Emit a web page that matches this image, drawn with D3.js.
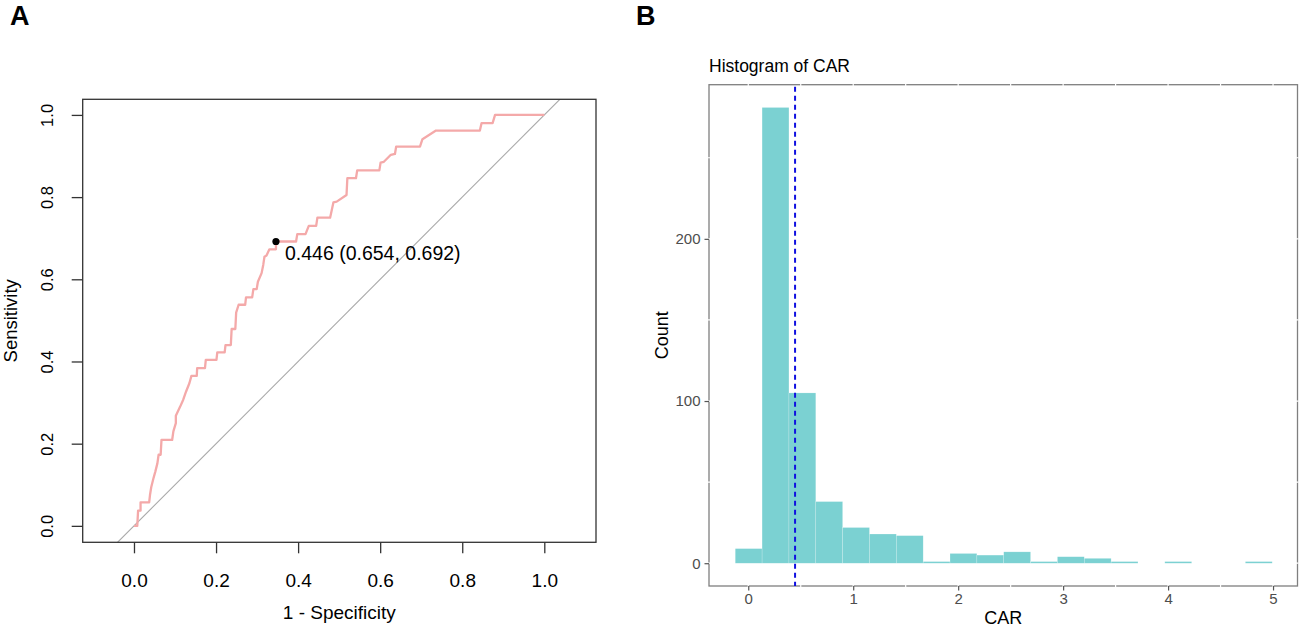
<!DOCTYPE html>
<html>
<head>
<meta charset="utf-8">
<script src="https://cdn.jsdelivr.net/npm/d3@7"></script>
<style>
  body { margin: 0; background: #fff; }
  svg { font-family: "Liberation Sans", Arial, sans-serif; }
</style>
</head>
<body>
<div id="chart"></div>
<script>
// ROC curve (1 - specificity, sensitivity)
const fpr = [0.000, 0.008, 0.010, 0.016, 0.016, 0.037, 0.039, 0.042, 0.047, 0.052, 0.057, 0.060, 0.065, 0.067,
  0.093, 0.096, 0.102, 0.102, 0.112, 0.120, 0.127, 0.135, 0.140, 0.153, 0.154, 0.173, 0.175, 0.201, 0.203,
  0.221, 0.223, 0.236, 0.238, 0.247, 0.249, 0.255, 0.271, 0.273, 0.288, 0.291, 0.299, 0.302, 0.311, 0.315,
  0.318, 0.323, 0.330, 0.346, 0.346, 0.395, 0.398, 0.418, 0.426, 0.444, 0.447, 0.478, 0.486, 0.494, 0.518,
  0.520, 0.541, 0.544, 0.598, 0.601, 0.609, 0.626, 0.636, 0.639, 0.697, 0.703, 0.736, 0.843, 0.847, 0.874,
  0.880, 1.000];
const tpr = [0.000, 0.000, 0.037, 0.037, 0.057, 0.057, 0.075, 0.094, 0.114, 0.132, 0.152, 0.173, 0.173, 0.209,
  0.209, 0.230, 0.250, 0.268, 0.289, 0.307, 0.327, 0.347, 0.365, 0.365, 0.384, 0.384, 0.404, 0.404, 0.422,
  0.422, 0.440, 0.440, 0.479, 0.479, 0.519, 0.538, 0.538, 0.556, 0.556, 0.576, 0.576, 0.594, 0.615, 0.635,
  0.655, 0.658, 0.673, 0.673, 0.692, 0.692, 0.710, 0.710, 0.730, 0.730, 0.750, 0.750, 0.787, 0.789, 0.805,
  0.846, 0.846, 0.865, 0.865, 0.884, 0.886, 0.903, 0.905, 0.923, 0.923, 0.941, 0.962, 0.962, 0.980, 0.980,
  1.000, 1.000];
const bestThreshold = 0.446;
const bestSpec = 0.654;
const bestSens = 0.692;
const rocTicks = [0, 0.2, 0.4, 0.6, 0.8, 1.0];

// histogram of CAR: 20 bins
const binStart = -0.124;
const binWidth = 0.2558;
const binCounts = [9, 281, 105, 38, 22, 18, 17, 1, 6, 5, 7, 1, 4, 3, 1, 0, 1, 0, 0, 1];
const carTicks = [0, 1, 2, 3, 4, 5];
const countTicks = [0, 100, 200];
const carGrid = [0, 0.5, 1, 1.5, 2, 2.5, 3, 3.5, 4, 4.5, 5];
const countGrid = [0, 50, 100, 150, 200, 250];

const svg = d3.select("#chart").append("svg")
    .attr("width", 1299)
    .attr("height", 629);

// panel letters
svg.append("text").attr("x", 10).attr("y", 25)
    .style("font-size", "27px").style("font-weight", "bold").text("A");
svg.append("text").attr("x", 636).attr("y", 25)
    .style("font-size", "27px").style("font-weight", "bold").text("B");

// ---------- Panel A: ROC ----------
const xA = d3.scaleLinear().domain([-0.125, 1.126]).range([82.7, 596]);
const yA = d3.scaleLinear().domain([-0.040, 1.038]).range([542.3, 99.3]);

const gA = svg.append("g");

gA.append("clipPath").attr("id", "clipA")
    .append("rect")
    .attr("x", xA.range()[0]).attr("y", yA.range()[1])
    .attr("width", xA.range()[1] - xA.range()[0])
    .attr("height", yA.range()[0] - yA.range()[1]);

// diagonal reference line
gA.append("line")
    .attr("clip-path", "url(#clipA)")
    .attr("x1", xA(-0.2)).attr("y1", yA(-0.2))
    .attr("x2", xA(1.2)).attr("y2", yA(1.2))
    .style("stroke", "#a8a8a8")
    .style("stroke-width", 1.1);

const rocLine = d3.line()
    .x(i => xA(fpr[i]))
    .y(i => yA(tpr[i]));

gA.append("path")
    .datum(d3.range(fpr.length))
    .attr("d", rocLine)
    .style("fill", "none")
    .style("stroke", "#f4a9a9")
    .style("stroke-width", 2.3)
    .style("stroke-linejoin", "round");

gA.append("circle")
    .attr("cx", xA(1 - bestSpec))
    .attr("cy", yA(bestSens))
    .attr("r", 3.6)
    .style("fill", "#000");

gA.append("text")
    .attr("x", xA(1 - bestSpec) + 9)
    .attr("y", yA(bestSens) + 19)
    .style("font-size", "19.5px")
    .text(`${bestThreshold.toFixed(3)} (${bestSpec.toFixed(3)}, ${bestSens.toFixed(3)})`);

// box
gA.append("rect")
    .attr("x", xA.range()[0]).attr("y", yA.range()[1])
    .attr("width", xA.range()[1] - xA.range()[0])
    .attr("height", yA.range()[0] - yA.range()[1])
    .style("fill", "none")
    .style("stroke", "#333")
    .style("stroke-width", 1.3);

// x axis
gA.append("g")
    .attr("transform", `translate(0, ${yA.range()[0]})`)
    .call(d3.axisBottom(xA).tickValues(rocTicks).tickFormat(d3.format(".1f")).tickSize(11).tickPadding(20))
    .call(g => g.select(".domain").remove())
    .call(g => g.selectAll(".tick line").style("stroke", "#333").style("stroke-width", 1.3))
    .call(g => g.selectAll("text").style("font-size", "19px").style("fill", "#000")
        .style("font-family", "Liberation Sans, Arial, sans-serif"));

// y axis
gA.append("g")
    .attr("transform", `translate(${xA.range()[0]}, 0)`)
    .call(d3.axisLeft(yA).tickValues(rocTicks).tickFormat(d3.format(".1f")).tickSize(11))
    .call(g => g.select(".domain").remove())
    .call(g => g.selectAll(".tick line").style("stroke", "#333").style("stroke-width", 1.3))
    .call(g => g.selectAll("text")
        .attr("x", null).attr("dy", null)
        .attr("transform", "translate(-30,0) rotate(-90)")
        .style("text-anchor", "middle")
        .style("font-size", "16.5px").style("fill", "#000")
        .style("font-family", "Liberation Sans, Arial, sans-serif"));

gA.append("text")
    .attr("x", (xA.range()[0] + xA.range()[1]) / 2)
    .attr("y", 619)
    .style("text-anchor", "middle")
    .style("font-size", "19px")
    .text("1 - Specificity");

gA.append("text")
    .attr("transform", `translate(17, ${(yA.range()[0] + yA.range()[1]) / 2}) rotate(-90)`)
    .style("text-anchor", "middle")
    .style("font-size", "18.5px")
    .text("Sensitivity");

// ---------- Panel B: histogram ----------
const xB = d3.scaleLinear().domain([-0.374, 5.233]).range([709, 1297.5]);
const yB = d3.scaleLinear().domain([-14.05, 295.05]).range([586, 84.7]);

const gB = svg.append("g");

// panel background with grey outline
gB.append("rect")
    .attr("x", xB.range()[0]).attr("y", yB.range()[1])
    .attr("width", xB.range()[1] - xB.range()[0])
    .attr("height", yB.range()[0] - yB.range()[1])
    .style("fill", "#fff")
    .style("stroke", "#7f7f7f")
    .style("stroke-width", 1.3);

// white grid lines (they cut the outline)
gB.selectAll(".vgrid")
    .data(carGrid)
    .enter().append("line")
    .attr("x1", d => xB(d)).attr("x2", d => xB(d))
    .attr("y1", yB.range()[1] - 1).attr("y2", yB.range()[0] + 1)
    .style("stroke", "#fff")
    .style("stroke-width", 1.2);

gB.selectAll(".hgrid")
    .data(countGrid)
    .enter().append("line")
    .attr("x1", xB.range()[0] - 1).attr("x2", xB.range()[1] + 1)
    .attr("y1", d => yB(d)).attr("y2", d => yB(d))
    .style("stroke", "#fff")
    .style("stroke-width", 1.2);

gB.selectAll(".bar")
    .data(binCounts.map((c, i) => ({ x0: binStart + i * binWidth, x1: binStart + (i + 1) * binWidth, count: c })))
    .enter().append("rect")
    .attr("class", "bar")
    .attr("x", d => xB(d.x0))
    .attr("width", d => xB(d.x1) - xB(d.x0))
    .attr("y", d => yB(d.count))
    .attr("height", d => yB(0) - yB(d.count))
    .style("fill", "#7bd1d2")
    .style("stroke", "#fff")
    .style("stroke-opacity", 0.35)
    .style("stroke-width", 0.5);

// cutoff line
gB.append("line")
    .attr("x1", xB(bestThreshold)).attr("x2", xB(bestThreshold))
    .attr("y1", yB.range()[1] + 2).attr("y2", yB.range()[0])
    .style("stroke", "#1010e0")
    .style("stroke-width", 2)
    .style("stroke-dasharray", "5,4");

gB.append("g")
    .attr("transform", `translate(0, ${yB.range()[0]})`)
    .call(d3.axisBottom(xB).tickValues(carTicks).tickFormat(d3.format("d")).tickSize(4.5).tickPadding(3))
    .call(g => g.select(".domain").remove())
    .call(g => g.selectAll(".tick line").style("stroke", "#555").style("stroke-width", 1.2))
    .call(g => g.selectAll("text").style("font-size", "15px").style("fill", "#4d4d4d")
        .style("font-family", "Liberation Sans, Arial, sans-serif"));

gB.append("g")
    .attr("transform", `translate(${xB.range()[0]}, 0)`)
    .call(d3.axisLeft(yB).tickValues(countTicks).tickFormat(d3.format("d")).tickSize(4.5).tickPadding(4))
    .call(g => g.select(".domain").remove())
    .call(g => g.selectAll(".tick line").style("stroke", "#555").style("stroke-width", 1.2))
    .call(g => g.selectAll("text").style("font-size", "15px").style("fill", "#4d4d4d")
        .style("font-family", "Liberation Sans, Arial, sans-serif"));

gB.append("text")
    .attr("x", xB.range()[0])
    .attr("y", 72)
    .style("font-size", "17.5px")
    .text("Histogram of CAR");

gB.append("text")
    .attr("x", (xB.range()[0] + xB.range()[1]) / 2)
    .attr("y", 624)
    .style("text-anchor", "middle")
    .style("font-size", "18px")
    .text("CAR");

gB.append("text")
    .attr("transform", `translate(668, ${(yB.range()[0] + yB.range()[1]) / 2}) rotate(-90)`)
    .style("text-anchor", "middle")
    .style("font-size", "18px")
    .text("Count");
</script>
</body>
</html>
